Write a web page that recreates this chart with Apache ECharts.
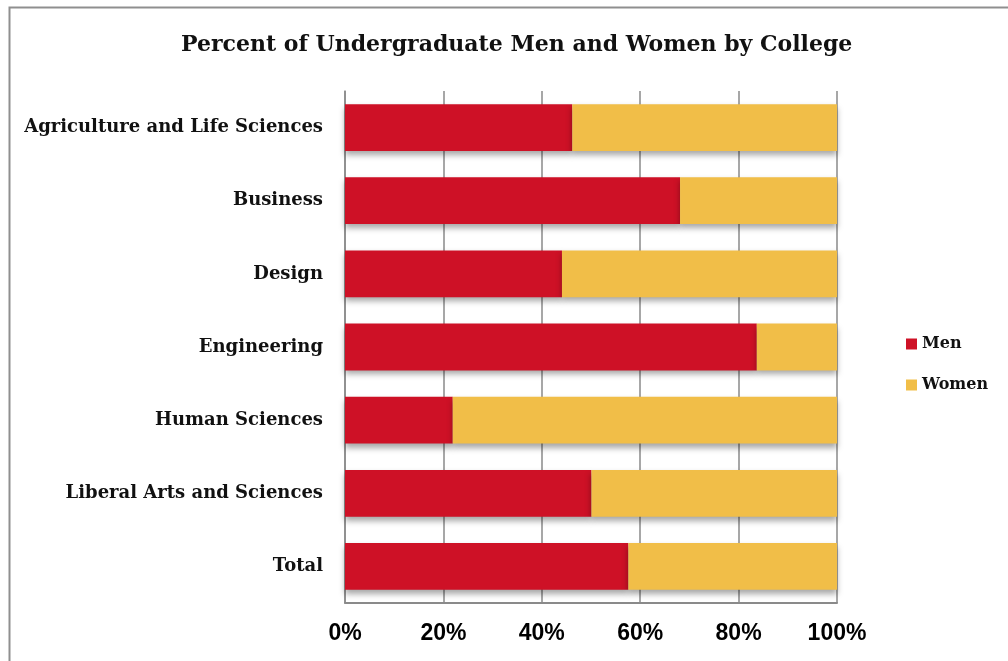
<!DOCTYPE html>
<html>
<head>
<meta charset="utf-8">
<script src="https://cdn.jsdelivr.net/npm/echarts@6/dist/echarts.min.js"></script>
<style>
html,body{margin:0;padding:0;background:#fff;}
#chart{width:1008px;height:661px;}
</style>
</head>
<body>
<div id="chart"></div>
<script>
const categories = ["Agriculture and Life Sciences","Business","Design","Engineering","Human Sciences","Liberal Arts and Sciences","Total"];
const menValues = [46.2, 68.1, 44.1, 83.7, 21.9, 50.1, 57.6];
const womenValues = [53.8, 31.9, 55.9, 16.3, 78.1, 49.9, 42.4];
const xTickValues = [0, 20, 40, 60, 80, 100];

const chart = echarts.init(document.getElementById('chart'), null, {renderer:'canvas'});
const serif = "'DejaVu Serif', 'Liberation Serif', serif";
const barShadow = {shadowColor:'rgba(0,0,0,0.35)', shadowBlur:6, shadowOffsetY:4};
chart.setOption({
  animation:false,
  backgroundColor:'#fff',
  graphic:[{
    type:'rect', left:7, top:5, silent:true,
    shape:{width:1020, height:680},
    style:{fill:'none', stroke:'#8f8f8f', lineWidth:2}
  }],
  title:{
    text:'Percent of Undergraduate Men and Women by College',
    left:176, top:29,
    textStyle:{fontFamily:serif, fontWeight:'bold', fontSize:22, color:'#111'}
  },
  legend:{
    orient:'vertical', left:901, top:331,
    itemWidth:11, itemHeight:11, itemGap:25, icon:'rect',
    textStyle:{fontFamily:serif, fontWeight:'bold', fontSize:16, color:'#111'},
    data:['Men','Women']
  },
  grid:{left:345, right:171, top:91, bottom:58, containLabel:false},
  xAxis:{
    type:'value', min:xTickValues[0], max:xTickValues[xTickValues.length-1], interval:20,
    axisLabel:{formatter:'{value}%', fontFamily:"'Liberation Sans', Arial, sans-serif", fontWeight:'bold', fontSize:23, color:'#000', margin:19},
    axisLine:{show:true, lineStyle:{color:'#8a8a8a', width:2}},
    axisTick:{show:false},
    splitLine:{show:true, lineStyle:{color:'#8a8a8a', width:1.5}}
  },
  yAxis:{
    type:'category', inverse:true, data:categories,
    axisLabel:{fontFamily:serif, fontWeight:'bold', fontSize:18, color:'#111', margin:22},
    axisLine:{show:true, lineStyle:{color:'#8a8a8a', width:1.5}},
    axisTick:{show:false}
  },
  series:[
    {name:'Men', type:'bar', stack:'total', data:menValues, barCategoryGap:'36%',
     itemStyle:Object.assign({color:'#CE1126'}, barShadow)},
    {name:'Women', type:'bar', stack:'total', data:womenValues, barCategoryGap:'36%',
     itemStyle:Object.assign({color:'#F1BE48'}, barShadow)}
  ]
});
</script>
</body>
</html>
